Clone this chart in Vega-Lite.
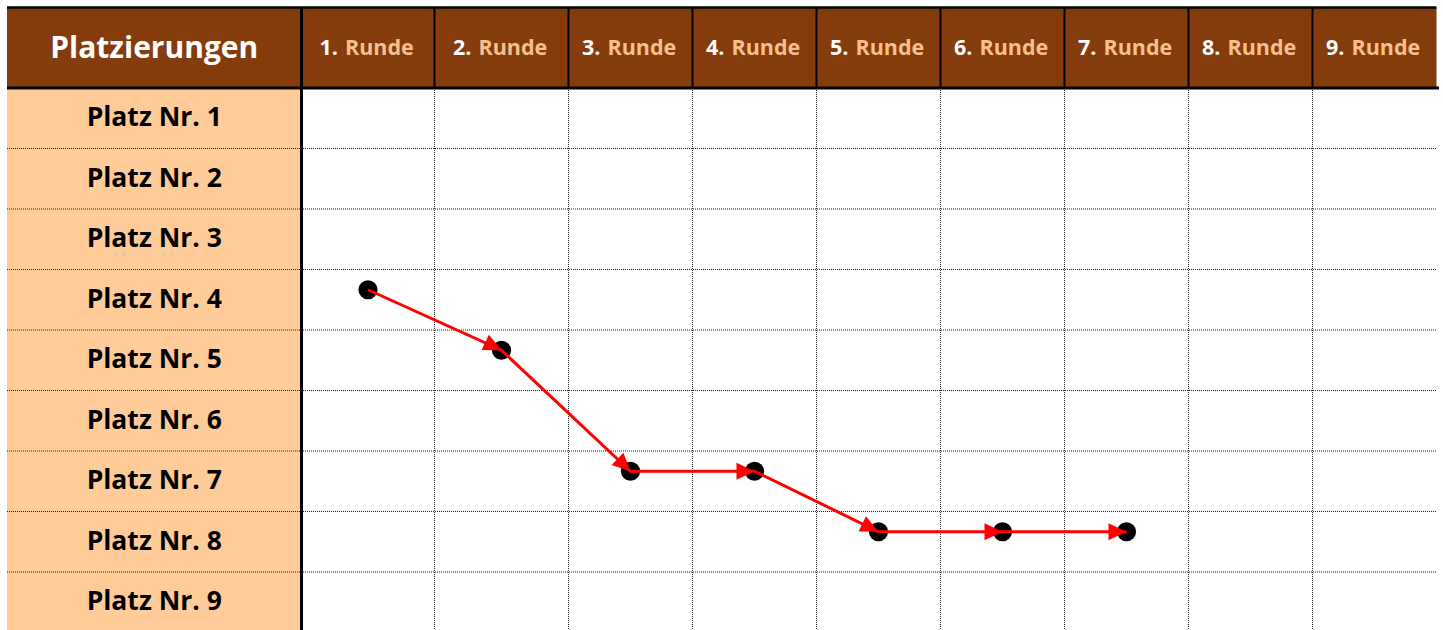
{
  "$schema": "https://vega.github.io/schema/vega-lite/v6.json",
  "width": 1443,
  "height": 630,
  "autosize": {"type": "none"},
  "padding": 0,
  "background": "white",
  "config": {"view": {"stroke": null}, "axis": {"disable": true}, "font": "Open Sans"},
  "datasets": {
    "rounds": [
      {"round": 1, "num": "1.", "word": "Runde"},
      {"round": 2, "num": "2.", "word": "Runde"},
      {"round": 3, "num": "3.", "word": "Runde"},
      {"round": 4, "num": "4.", "word": "Runde"},
      {"round": 5, "num": "5.", "word": "Runde"},
      {"round": 6, "num": "6.", "word": "Runde"},
      {"round": 7, "num": "7.", "word": "Runde"},
      {"round": 8, "num": "8.", "word": "Runde"},
      {"round": 9, "num": "9.", "word": "Runde"}
    ],
    "places": [
      {"place": 1, "label": "Platz Nr. 1"},
      {"place": 2, "label": "Platz Nr. 2"},
      {"place": 3, "label": "Platz Nr. 3"},
      {"place": 4, "label": "Platz Nr. 4"},
      {"place": 5, "label": "Platz Nr. 5"},
      {"place": 6, "label": "Platz Nr. 6"},
      {"place": 7, "label": "Platz Nr. 7"},
      {"place": 8, "label": "Platz Nr. 8"},
      {"place": 9, "label": "Platz Nr. 9"}
    ],
    "track": [
      {"round": 1, "place": 4},
      {"round": 2, "place": 5},
      {"round": 3, "place": 7},
      {"round": 4, "place": 7},
      {"round": 5, "place": 8},
      {"round": 6, "place": 8},
      {"round": 7, "place": 8}
    ],
    "one": [{"title": "Platzierungen"}]
  },
  "layer": [
    {
      "data": {"name": "one"},
      "mark": {"type": "rect", "color": "#843C0C"},
      "encoding": {
        "x": {"datum": -0.5, "type": "quantitative", "axis": null,
              "scale": {"domain": [-0.5, 0.5, 1.5, 2.5, 9.5], "range": [7, 301.5, 434.5, 568.5, 1436.5], "nice": false, "zero": false}},
        "x2": {"datum": 9.5},
        "y": {"datum": -0.5, "type": "quantitative", "axis": null,
              "scale": {"domain": [-0.5, 0.5, 9.5], "range": [7.5, 88, 632.5], "nice": false, "zero": false}},
        "y2": {"datum": 0.5}
      }
    },
    {
      "data": {"name": "one"},
      "mark": {"type": "rect", "color": "#FFCC99"},
      "encoding": {
        "x": {"datum": -0.5, "type": "quantitative", "axis": null},
        "x2": {"datum": 0.5},
        "y": {"datum": 0.5, "type": "quantitative", "axis": null},
        "y2": {"datum": 9.5}
      }
    },
    {
      "data": {"name": "places"},
      "transform": [{"filter": "datum.place <= 8"}, {"calculate": "datum.place + 0.5", "as": "edge"}],
      "mark": {"type": "rule", "color": "#222222", "strokeWidth": 1, "strokeDash": [1, 1]},
      "encoding": {
        "x": {"datum": -0.5, "type": "quantitative", "axis": null},
        "x2": {"datum": 9.5},
        "y": {"field": "edge", "type": "quantitative", "axis": null}
      }
    },
    {
      "data": {"name": "rounds"},
      "transform": [{"filter": "datum.round <= 8"}, {"calculate": "datum.round + 0.5", "as": "edge"}],
      "mark": {"type": "rule", "color": "#222222", "strokeWidth": 1, "strokeDash": [1, 1]},
      "encoding": {
        "x": {"field": "edge", "type": "quantitative", "axis": null},
        "y": {"datum": 0.5, "type": "quantitative", "axis": null},
        "y2": {"datum": 9.5}
      }
    },
    {
      "data": {"name": "rounds"},
      "transform": [{"filter": "datum.round <= 8"}, {"calculate": "datum.round + 0.5", "as": "edge"}],
      "mark": {"type": "rule", "color": "black", "strokeWidth": 2},
      "encoding": {
        "x": {"field": "edge", "type": "quantitative", "axis": null},
        "y": {"datum": -0.5, "type": "quantitative", "axis": null},
        "y2": {"datum": 0.5}
      }
    },
    {
      "data": {"name": "one"},
      "mark": {"type": "rule", "color": "black", "strokeWidth": 3},
      "encoding": {
        "x": {"datum": 0.5, "type": "quantitative", "axis": null},
        "y": {"datum": -0.5, "type": "quantitative", "axis": null},
        "y2": {"datum": 9.5}
      }
    },
    {
      "data": {"name": "one"},
      "mark": {"type": "rule", "color": "black", "strokeWidth": 2.5},
      "encoding": {
        "x": {"datum": -0.5, "type": "quantitative", "axis": null},
        "x2": {"datum": 9.5},
        "y": {"datum": -0.5, "type": "quantitative", "axis": null}
      }
    },
    {
      "data": {"name": "one"},
      "mark": {"type": "rule", "color": "black", "strokeWidth": 3},
      "encoding": {
        "x": {"datum": -0.5, "type": "quantitative", "axis": null},
        "x2": {"datum": 9.52},
        "y": {"datum": 0.5, "type": "quantitative", "axis": null}
      }
    },
    {
      "data": {"name": "one"},
      "mark": {"type": "text", "color": "white", "fontSize": 30, "fontWeight": "bold", "align": "center", "baseline": "middle", "dy": 1},
      "encoding": {
        "x": {"datum": 0, "type": "quantitative", "axis": null},
        "y": {"datum": 0, "type": "quantitative", "axis": null},
        "text": {"field": "title"}
      }
    },
    {
      "data": {"name": "rounds"},
      "mark": {"type": "text", "color": "white", "fontSize": 21.5, "fontWeight": "bold", "align": "right", "baseline": "middle", "dx": -30, "dy": 1},
      "encoding": {
        "x": {"field": "round", "type": "quantitative", "axis": null},
        "y": {"datum": 0, "type": "quantitative", "axis": null},
        "text": {"field": "num"}
      }
    },
    {
      "data": {"name": "rounds"},
      "mark": {"type": "text", "color": "#F7C08E", "fontSize": 21.5, "fontWeight": "bold", "align": "left", "baseline": "middle", "dx": -23, "dy": 1},
      "encoding": {
        "x": {"field": "round", "type": "quantitative", "axis": null},
        "y": {"datum": 0, "type": "quantitative", "axis": null},
        "text": {"field": "word"}
      }
    },
    {
      "data": {"name": "places"},
      "mark": {"type": "text", "color": "black", "fontSize": 26.5, "fontWeight": "bold", "align": "center", "baseline": "middle"},
      "encoding": {
        "x": {"datum": 0, "type": "quantitative", "axis": null},
        "y": {"field": "place", "type": "quantitative", "axis": null},
        "text": {"field": "label"}
      }
    },
    {
      "data": {"name": "track"},
      "mark": {"type": "circle", "color": "black", "opacity": 1, "size": 370, "yOffset": -10},
      "encoding": {
        "x": {"field": "round", "type": "quantitative", "axis": null},
        "y": {"field": "place", "type": "quantitative", "axis": null}
      }
    },
    {
      "data": {"name": "track"},
      "mark": {"type": "line", "color": "#FF0000", "strokeWidth": 3, "yOffset": -10},
      "encoding": {
        "x": {"field": "round", "type": "quantitative", "axis": null},
        "y": {"field": "place", "type": "quantitative", "axis": null},
        "order": {"field": "round"}
      }
    },
    {
      "data": {"name": "track"},
      "transform": [
        {"window": [{"op": "lag", "field": "place", "as": "pp"}, {"op": "lag", "field": "round", "as": "pr"}], "sort": [{"field": "round", "order": "ascending"}]},
        {"filter": "datum.pp != null"},
        {"calculate": "atan2((datum.place - datum.pp) * 60.5, (datum.round - datum.pr) * 126) * 180 / PI", "as": "ang"}
      ],
      "mark": {"type": "point", "shape": "M0,0L-2,-0.94L-2,0.94Z", "filled": true, "color": "#FF0000", "opacity": 1, "size": 324, "yOffset": -10},
      "encoding": {
        "x": {"field": "round", "type": "quantitative", "axis": null},
        "y": {"field": "place", "type": "quantitative", "axis": null},
        "angle": {"field": "ang", "type": "quantitative", "scale": null}
      }
    }
  ]
}
